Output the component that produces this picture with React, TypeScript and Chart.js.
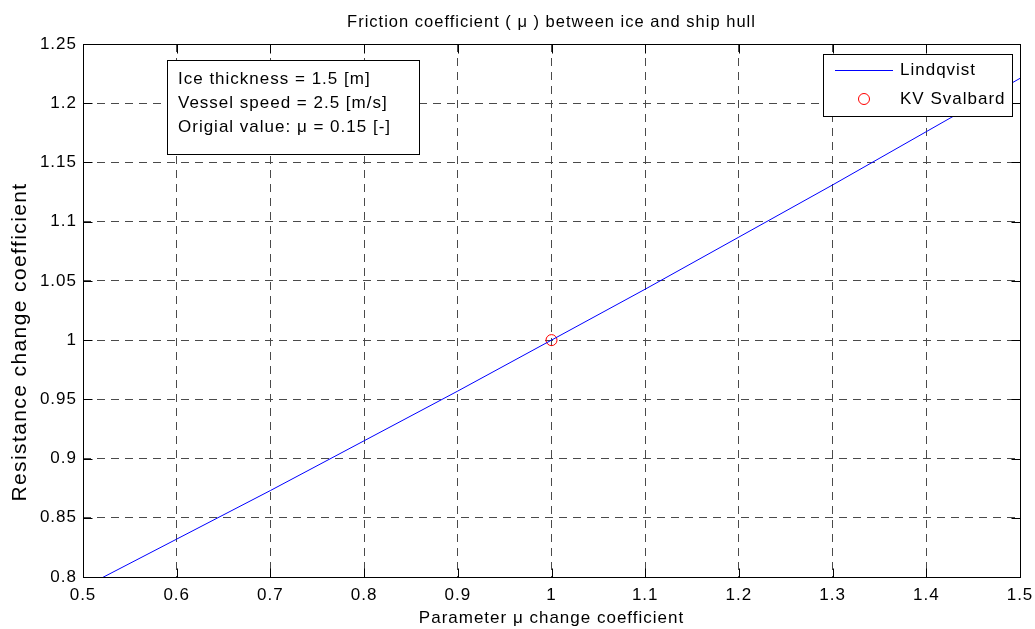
import React, { useEffect, useRef } from 'react';
import { Chart, registerables } from 'chart.js';

Chart.register(...registerables);

// ---- data ----
const xValues = [0.5, 0.6, 0.7, 0.8, 0.9, 1.0, 1.1, 1.2, 1.3, 1.4, 1.5];
const lindqvistValues = [0.791, 0.832, 0.873, 0.915, 0.957, 1.0, 1.043, 1.087, 1.131, 1.176, 1.221];
const svalbardX = [1.0];
const svalbardY = [1.0];
const xTickLabels = ['0.5', '0.6', '0.7', '0.8', '0.9', '1', '1.1', '1.2', '1.3', '1.4', '1.5'];
const yTickLabels = ['0.8', '0.85', '0.9', '0.95', '1', '1.05', '1.1', '1.15', '1.2', '1.25'];
const seriesNames = ['Lindqvist', 'KV Svalbard'];
const titleText = 'Friction coefficient ( \u03bc ) between ice and ship hull';
const xTitleText = 'Parameter \u03bc change coefficient';
const yTitleText = 'Resistance change coefficient';
const infoLines = ['Ice thickness = 1.5 [m]', 'Vessel speed = 2.5 [m/s]', 'Origial value: \u03bc = 0.15 [-]'];

const FONT = "'Liberation Sans', Arial, Helvetica, sans-serif";
const GRID = '#4a4a4a';
const DASH = [8, 6];

const findLabel = (labels: string[], v: number) => {
  const l = labels.find((s) => Math.abs(parseFloat(s) - v) < 1e-6);
  return l === undefined ? '' : l;
};

const decorPlugin = {
  id: 'matlabDecor',
  beforeLayout(chart: any) {
    (chart.ctx as any).letterSpacing = '1px';
  },
  beforeDraw(chart: any) {
    const ctx = chart.ctx;
    (ctx as any).letterSpacing = '1px';
    ctx.save();
    ctx.fillStyle = '#ffffff';
    ctx.fillRect(0, 0, chart.width, chart.height);
    ctx.restore();
  },
  afterDraw(chart: any) {
    const ctx: CanvasRenderingContext2D = chart.ctx;
    const a = chart.chartArea;
    const sx = chart.scales.x;
    const sy = chart.scales.y;
    ctx.save();
    ctx.setLineDash([]);
    ctx.strokeStyle = '#000';
    ctx.lineWidth = 1;
    const L = Math.round(a.left) + 0.5;
    const R = Math.round(a.right) + 0.5;
    const T = Math.round(a.top) + 0.5;
    const B = Math.round(a.bottom) + 0.5;
    ctx.strokeRect(L, T, R - L, B - T);
    const tl = 9;
    ctx.beginPath();
    sx.ticks.forEach((t: any) => {
      const px = Math.round(sx.getPixelForValue(t.value)) + 0.5;
      ctx.moveTo(px, B);
      ctx.lineTo(px, B - tl);
      ctx.moveTo(px, T);
      ctx.lineTo(px, T + tl);
    });
    sy.ticks.forEach((t: any) => {
      const py = Math.round(sy.getPixelForValue(t.value)) + 0.5;
      ctx.moveTo(L, py);
      ctx.lineTo(L + tl, py);
      ctx.moveTo(R, py);
      ctx.lineTo(R - tl, py);
    });
    ctx.stroke();

    // title
    (ctx as any).letterSpacing = '1px';
    ctx.fillStyle = '#000';
    ctx.font = `16.5px ${FONT}`;
    ctx.textAlign = 'center';
    ctx.textBaseline = 'middle';
    ctx.fillText(titleText, (a.left + a.right) / 2, 22.5);

    // y title
    ctx.save();
    (ctx as any).letterSpacing = '1.4px';
    ctx.translate(20, 342);
    ctx.rotate(-Math.PI / 2);
    ctx.font = `21px ${FONT}`;
    ctx.textAlign = 'center';
    ctx.textBaseline = 'middle';
    ctx.fillText(yTitleText, 0, 0);
    ctx.restore();

    // info box
    (ctx as any).letterSpacing = '1px';
    ctx.fillStyle = '#fff';
    ctx.fillRect(167.5, 60.5, 252, 94);
    ctx.strokeStyle = '#000';
    ctx.strokeRect(167.5, 60.5, 252, 94);
    ctx.fillStyle = '#000';
    ctx.font = `17px ${FONT}`;
    ctx.textAlign = 'left';
    ctx.textBaseline = 'middle';
    infoLines.forEach((s, i) => ctx.fillText(s, 178, 79 + i * 24));

    // legend
    ctx.fillStyle = '#fff';
    ctx.fillRect(823.5, 54.5, 189, 62);
    ctx.strokeStyle = '#000';
    ctx.strokeRect(823.5, 54.5, 189, 62);
    ctx.strokeStyle = '#0000ff';
    ctx.beginPath();
    ctx.moveTo(835, 70.5);
    ctx.lineTo(893, 70.5);
    ctx.stroke();
    ctx.strokeStyle = '#ff0000';
    ctx.beginPath();
    ctx.arc(864, 99, 5.5, 0, Math.PI * 2);
    ctx.stroke();
    ctx.fillStyle = '#000';
    ctx.fillText(seriesNames[0], 900, 70);
    ctx.fillText(seriesNames[1], 900, 99);
    ctx.restore();
  },
};

export default function App() {
  const ref = useRef<HTMLCanvasElement | null>(null);
  useEffect(() => {
    if (!ref.current) return;
    const chart = new Chart(ref.current, {
      type: 'scatter',
      data: {
        datasets: [
          {
            label: seriesNames[0],
            data: xValues.map((x, i) => ({ x, y: lindqvistValues[i] })),
            showLine: true,
            borderColor: '#0000ff',
            borderWidth: 1,
            pointRadius: 0,
            fill: false,
            tension: 0,
          },
          {
            label: seriesNames[1],
            data: svalbardX.map((x, i) => ({ x, y: svalbardY[i] })),
            showLine: false,
            pointRadius: 5.5,
            pointBorderWidth: 1,
            pointBorderColor: '#ff0000',
            pointBackgroundColor: 'rgba(0,0,0,0)',
          },
        ],
      },
      options: {
        animation: false,
        responsive: false,
        events: [],
        layout: { padding: { top: 44, right: 15, left: 0, bottom: 0 } },
        plugins: { legend: { display: false }, tooltip: { enabled: false }, title: { display: false } },
        scales: {
          x: {
            type: 'linear',
            min: 0.5,
            max: 1.5,
            ticks: {
              stepSize: 0.1,
              autoSkip: false,
              maxRotation: 0,
              minRotation: 0,
              padding: 8,
              color: '#000',
              font: { family: FONT, size: 17 },
              callback: (v: any) => findLabel(xTickLabels, Number(v)),
            },
            grid: { color: GRID, lineWidth: 1, drawTicks: false },
            border: { display: false, dash: DASH },
            title: {
              display: true,
              text: xTitleText,
              color: '#000',
              font: { family: FONT, size: 17 },
              padding: { top: 0, bottom: 0 },
            },
            afterFit: (s: any) => {
              s.height = 52;
              s.paddingLeft = 0;
              s.paddingRight = 0;
            },
          },
          y: {
            type: 'linear',
            min: 0.8,
            max: 1.25,
            ticks: {
              stepSize: 0.05,
              autoSkip: false,
              padding: 6,
              color: '#000',
              font: { family: FONT, size: 17 },
              callback: (v: any) => findLabel(yTickLabels, Number(v)),
            },
            grid: { color: GRID, lineWidth: 1, drawTicks: false },
            border: { display: false, dash: DASH },
            title: { display: false },
            afterFit: (s: any) => {
              s.width = 83;
              s.paddingTop = 0;
              s.paddingBottom = 0;
            },
          },
        },
      },
      plugins: [decorPlugin],
    } as any);
    return () => chart.destroy();
  }, []);
  return (
    <div style={{ position: 'absolute', left: 0, top: 0, width: 1035, height: 629, background: '#fff' }}>
      <canvas ref={ref} width={1035} height={629} />
    </div>
  );
}
